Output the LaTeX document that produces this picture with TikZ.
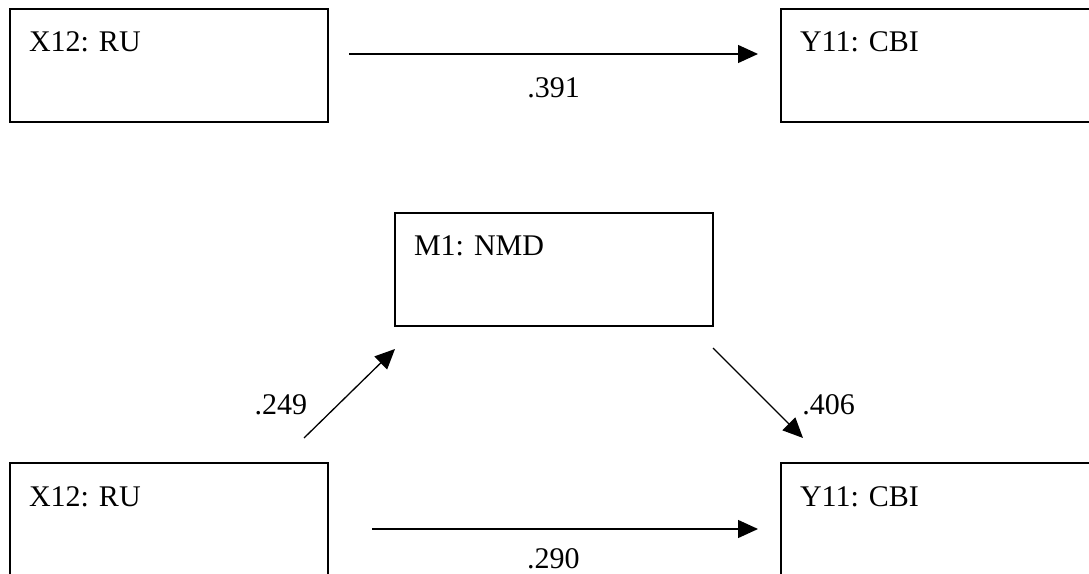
\documentclass[tikz,border=0pt]{standalone}
\usepackage{fontspec}
\setmainfont{Liberation Serif}
\frenchspacing
\usetikzlibrary{arrows.meta, positioning}

\begin{document}
\begin{tikzpicture}[
    x=1pt, y=1pt,
    >={Triangle[length=20pt, width=18pt]},
    node distance=341pt and 453pt,
    var/.style={
        draw,
        line width=1.8pt,
        outer sep=0pt,
        align=left,
        text width=280pt,
        text height=20pt,
        text depth=47pt,
        inner xsep=19pt,
        inner ysep=23pt,
        font=\fontsize{30}{36}\selectfont
    },
    effect/.style={->, line width=1.3pt},
    coef/.style={font=\fontsize{30}{36}\selectfont, inner sep=0pt}
]
\useasboundingbox (0,0) rectangle (1089,573);
\clip (0,0) rectangle (1089,573);

% total effect
\node[var, anchor=north west] (ru1) at (10,564) {X12: RU};
\node[var, right=of ru1] (cbi1) {Y11: CBI};

% mediation model
\node[var, below=of ru1] (ru2) {X12: RU};
\node[var, right=of ru2] (cbi2) {Y11: CBI};
\node[var, above right=137pt and 67pt of ru2] (nmd) {M1: NMD};

\coordinate (c1s) at (349,519);
\coordinate (c1e) at (758,519);
\coordinate (as) at (304,135);
\coordinate (ae) at (395,224);
\coordinate (bs) at (713,225);
\coordinate (be) at (803,135);
\coordinate (c2s) at (372,44);
\coordinate (c2e) at (758,44);

\draw[effect] (c1s) -- node[coef, midway, yshift=-34pt] {.391} (c1e);
\draw[effect] (as) -- node[coef, pos=0.37, anchor=east, xshift=-30pt] {.249} (ae);
\draw[effect] (bs) -- node[coef, pos=0.63, anchor=west, xshift=32pt] {.406} (be);
\draw[effect] (c2s) -- node[coef, pos=0.47, yshift=-30pt] {.290} (c2e);
\end{tikzpicture}
\end{document}
